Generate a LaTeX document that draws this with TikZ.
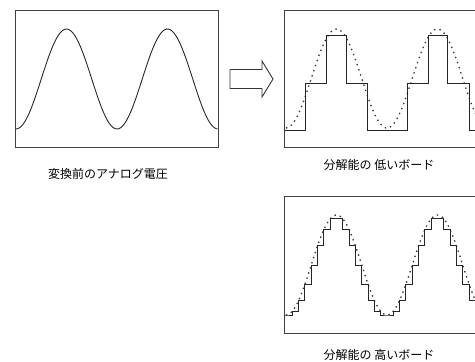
\documentclass[tikz,border=0pt]{standalone}
\usepackage{fontspec}
\newfontfamily\jpfont{Noto Sans CJK JP}
\usepackage{tikz}
\usetikzlibrary{positioning,calc}

\begin{document}
\begin{tikzpicture}[x=1pt,y=-1pt,
  scopebox/.style={draw=black!75,line width=0.9pt,minimum width=203pt,minimum height=137pt,inner sep=0pt},
  wave/.style={black!85,line width=0.9pt},
  ref/.style={black!80,line width=1.3pt,dash pattern=on 1.4pt off 4pt},
  caption/.style={font=\jpfont\fontsize{12}{14}\selectfont,inner sep=0pt}]
\useasboundingbox (0,0) rectangle (475,362);
\clip (0,0) rectangle (475,362);

\node[scopebox] (analog) at (116.5,78.5) {};
\node[scopebox] (lowres) at (385.5,79) {};
\node[scopebox] (highres) at (385.5,265) {};

\node[caption] (lblanalog) at (108,174) {変換前のアナログ電圧};
\node[caption] (lbllow) at (379,165) {分解能の 低いボード};
\node[caption] (lblhigh) at (379,355) {分解能の 高いボード};

% hollow arrow
\draw[black!80,line width=0.9pt] (230,69.5) -- (262,69.5) -- (262,61) -- (273,79) -- (262,97) -- (262,88.5) -- (230,88.5) -- cycle;

% analog input
\draw[wave] plot[domain=15.5:217.5,samples=120,smooth] (\x,{79+50*cos(3.5644*(\x-16))});

% low resolution
\draw[ref] plot[domain=286:480,samples=100,smooth] (\x,{78.5+49.5*cos(3.5644*(\x-286))});
\draw[wave] (lowres.west |- 0,130) -- (305,130) -- (305,83) -- (326,83) -- (326,35) -- (346,35)
  -- (346,83) -- (367,83) -- (367,130) -- (407,130) -- (407,83) -- (428,83) -- (428,35)
  -- (447,35) -- (447,83) -- (469,83) -- (469,130) -- (480,130);

% high resolution
\draw[ref] plot[domain=286:480,samples=100,smooth] (\x,{265+50*cos(3.5644*(\x-387))});
\draw[wave] (highres.west |- 0,315) \foreach \k in {0,...,30}
  { -- ({286+\k*6.3125},{265+50*max(cos(22.5*\k),cos(22.5*(\k+1)))})
    -- ({292.3125+\k*6.3125},{265+50*max(cos(22.5*\k),cos(22.5*(\k+1)))}) };
\end{tikzpicture}
\end{document}
